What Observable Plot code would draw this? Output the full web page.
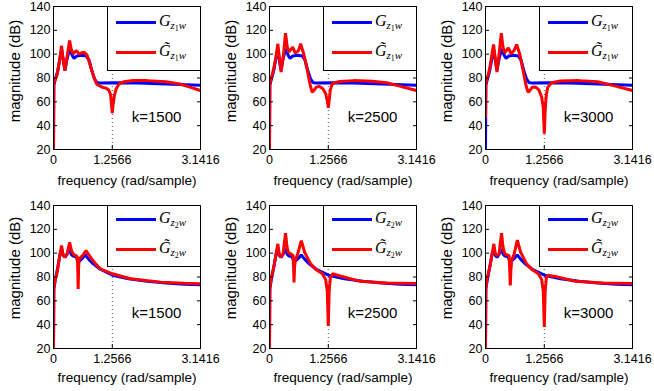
<!DOCTYPE html>
<html><head><meta charset="utf-8">
<script src="https://cdn.jsdelivr.net/npm/d3@7"></script>
<script src="https://cdn.jsdelivr.net/npm/@observablehq/plot@0.6"></script>
<style>
body{margin:0;background:#fff;}
#fig{position:relative;width:654px;height:391px;overflow:hidden;background:#fff;font-family:"Liberation Sans",Arial,sans-serif;}
.panel{position:absolute;}
.panel svg{overflow:visible;}
.leg{position:absolute;box-sizing:border-box;border:1px solid #000;background:#fff;}
.leg .ln{position:absolute;height:3px;left:8px;width:40px;}
.leg .lab{position:absolute;left:51px;font-family:"Liberation Serif","DejaVu Serif",serif;font-style:italic;font-size:16px;line-height:16px;white-space:nowrap;color:#000;}
.leg .sb{font-size:11px;position:relative;top:3px;}
.leg .sb2{font-size:8px;position:relative;top:2px;font-style:normal;}
</style></head><body><div id="fig"></div>
<script>
// axis / label text
const xTicks = [0, 1.2566, 3.1416];
const xTickLabels = ["0", "1.2566", "3.1416"];
const yTicks = [20, 40, 60, 80, 100, 120, 140];
const notchFreq = [1.2566];
const kLabels = ["k=1500", "k=2500", "k=3000"];
const xLabel = "frequency (rad/sample)";
const yLabel = "magnitude (dB)";
const seriesNames = ["G", "G\u0303"];
const outputIndex = ["1", "2"];

// [frequency, magnitude dB]
const blueTop = [[0,20],[0.008,74],[0.04,79],[0.09,86],[0.14,97],[0.175,104],[0.21,95],[0.245,86.5],[0.29,96],[0.345,104.5],[0.4,99],[0.44,96.5],[0.5,98.5],[0.6,99],[0.7,98.5],[0.76,95],[0.82,86],[0.88,79],[0.93,76.2],[1.0,75.7],[1.3,76],[1.8,75.8],[2.4,75],[3.1416,74]];
const red1 = [[0,20],[0.006,76],[0.04,79],[0.08,83],[0.13,95],[0.172,107],[0.2,97],[0.243,86],[0.29,98],[0.345,111.5],[0.38,104],[0.42,100.5],[0.49,103],[0.55,100],[0.62,101.5],[0.66,101.5],[0.72,99],[0.79,90],[0.862,80.7],[0.92,75],[0.97,73.7],[1.04,72.3],[1.12,71.5],[1.18,70],[1.22,66],[1.242,57],[1.2566,50.5],[1.272,57],[1.3,65],[1.34,71],[1.40,75],[1.5,76.8],[1.7,77.9],[2.0,77.8],[2.4,76.8],[2.7,75],[2.9,72.5],[3.1416,69.5]];
const red2 = [[0,20],[0.006,76],[0.04,80],[0.09,88],[0.14,98],[0.178,108.7],[0.215,96],[0.248,85],[0.3,100],[0.342,117.6],[0.375,107],[0.412,101.7],[0.495,105.9],[0.552,100.9],[0.62,103],[0.665,108.7],[0.73,100.3],[0.8,88],[0.87,74],[0.913,68],[0.95,69.5],[1.0,72.3],[1.06,73],[1.14,71],[1.2,67],[1.235,61],[1.2566,55],[1.275,61],[1.3,70],[1.34,75],[1.39,76],[1.5,77],[1.8,77.8],[2.2,77.3],[2.5,76],[2.8,73],[3.1416,69.5]];
const red3 = [[0,47],[0.006,76],[0.04,80],[0.09,88],[0.13,98],[0.172,108.1],[0.21,96],[0.245,85],[0.29,100],[0.338,117.6],[0.37,107],[0.405,101],[0.49,105.3],[0.545,100.3],[0.61,103],[0.665,108.1],[0.73,100.3],[0.8,87],[0.87,73],[0.912,68],[0.95,69.5],[1.0,72.3],[1.07,72.5],[1.14,70],[1.2,64],[1.235,55],[1.2566,33.2],[1.278,55],[1.3,66],[1.33,72.3],[1.41,76],[1.6,77.5],[2.0,77.8],[2.4,76.8],[2.8,73],[3.1416,69.5]];
const blueBot = [[0,20],[0.008,70],[0.04,78],[0.09,88],[0.14,99],[0.175,104],[0.21,98],[0.245,96.5],[0.29,99],[0.345,103.5],[0.38,99],[0.42,97.5],[0.48,97],[0.53,92.5],[0.6,95],[0.68,98.5],[0.75,95],[0.85,91],[1.0,86.5],[1.26,81.5],[1.6,78.5],[2.0,76.5],[2.4,75],[2.8,74],[3.1416,73.5]];
const red4 = [[0,20],[0.006,71],[0.04,78],[0.08,84],[0.13,97],[0.172,106.4],[0.2,99],[0.238,96.6],[0.29,99.4],[0.345,109.2],[0.385,102],[0.42,99.4],[0.506,97.2],[0.518,88],[0.527,70],[0.537,88],[0.549,95.3],[0.62,98],[0.695,102.2],[0.79,96.6],[0.9,91],[1.0,86.9],[1.26,82.7],[1.646,78.5],[2.29,75.7],[2.8,74.8],[3.1416,74.3]];
const red5 = [[0,20],[0.006,71],[0.04,80],[0.09,88],[0.14,99],[0.178,107.8],[0.21,99],[0.243,96.6],[0.29,99.4],[0.342,116.8],[0.375,105],[0.4,100.8],[0.503,98],[0.515,88],[0.524,75.5],[0.535,88],[0.55,94],[0.6,99],[0.68,110.6],[0.75,100.8],[0.88,91],[1.0,86],[1.13,82.7],[1.2,78],[1.235,68],[1.2566,39],[1.275,68],[1.3,79],[1.35,82.7],[1.49,81],[1.92,76.5],[2.5,75],[3.1416,74.5]];
const red6 = [[0,20],[0.006,70],[0.04,80],[0.09,88],[0.14,99],[0.178,107.8],[0.21,99.5],[0.243,98],[0.29,99.4],[0.342,116.8],[0.375,105],[0.41,99.4],[0.503,98],[0.518,86],[0.53,72.9],[0.543,86],[0.56,94],[0.61,99],[0.68,111],[0.75,100.8],[0.88,91],[1.0,86],[1.13,82.7],[1.2,78],[1.235,68],[1.2566,38],[1.275,68],[1.3,79],[1.33,81.5],[1.49,80.5],[1.92,76.5],[2.5,75],[3.1416,74.5]];

const rows = [
  {blue: blueTop, reds: [red1, red2, red3], idx: outputIndex[0]},
  {blue: blueBot, reds: [red4, red5, red6], idx: outputIndex[1]}
];

// layout
const colLeft = [0, 216, 432];
const rowTop = [0, 199];
const rowH = [195, 192];
const rowMB = [46, 43];
const rowXLabelDy = [31, 29];
const rowYLabelDy = [-7, -9];
const rowKDy = [-32, -35];
const rowLegH = [65, 62];
const rowLegLine = [[16, 46], [14, 44]];

const fig = document.getElementById("fig");

rows.forEach((row, r) => {
  row.reds.forEach((red, c) => {
    const chart = Plot.plot({
      width: 218, height: rowH[r],
      marginLeft: 53, marginRight: 18, marginTop: 6, marginBottom: rowMB[r],
      x: {domain: [0, 3.1416]},
      y: {domain: [20, 140]},
      style: {fontFamily: "Liberation Sans, Arial, sans-serif", fontSize: "12.5px", color: "#000", background: "transparent"},
      marks: [
        Plot.ruleX(notchFreq, {stroke: "#555", strokeDasharray: "1,3", strokeWidth: 1}),
        Plot.line(row.blue, {x: d => d[0], y: d => d[1], stroke: "#0000ff", strokeWidth: 3, strokeLinejoin: "miter", clip: true}),
        Plot.line(red, {x: d => d[0], y: d => d[1], stroke: "#ff0000", strokeWidth: 3, strokeLinejoin: "miter", clip: true}),
        Plot.frame({stroke: "#000"}),
        Plot.axisY({ticks: yTicks, tickSize: -4, tickPadding: 7, label: null}),
        Plot.axisY({anchor: "right", ticks: yTicks, tickSize: -4, tickFormat: () => "", label: null}),
        Plot.axisX({ticks: xTicks, tickSize: -4, tickPadding: 10, tickFormat: d => xTickLabels[xTicks.indexOf(d)], label: null}),
        Plot.axisX({anchor: "top", ticks: xTicks, tickSize: -4, tickFormat: () => "", label: null}),
        Plot.text([xLabel], {text: d => d, frameAnchor: "bottom", textAnchor: "middle", lineAnchor: "middle", dy: rowXLabelDy[r], fontSize: 13.5}),
        Plot.text([yLabel], {text: d => d, frameAnchor: "left", textAnchor: "middle", lineAnchor: "middle", dx: -38, dy: rowYLabelDy[r], rotate: -90, fontSize: 15}),
        Plot.text([kLabels[c]], {text: d => d, frameAnchor: "bottom-right", textAnchor: "middle", lineAnchor: "middle", dx: -44, dy: rowKDy[r], fontSize: 15})
      ]
    });
    const div = document.createElement("div");
    div.className = "panel";
    div.style.left = colLeft[c] + "px";
    div.style.top = rowTop[r] + "px";
    div.appendChild(chart);
    fig.appendChild(div);

    const leg = document.createElement("div");
    leg.className = "leg";
    leg.style.left = (colLeft[c] + 107) + "px";
    leg.style.top = (rowTop[r] + 6) + "px";
    leg.style.width = "94px";
    leg.style.height = rowLegH[r] + "px";
    [["#0000ff", seriesNames[0]], ["#ff0000", seriesNames[1]]].forEach(([col, name], i) => {
      const y = rowLegLine[r][i];
      const ln = document.createElement("div");
      ln.className = "ln";
      ln.style.background = col;
      ln.style.top = (y - 1.5 - 1) + "px";
      leg.appendChild(ln);
      const lab = document.createElement("div");
      lab.className = "lab";
      lab.style.top = (y - 10) + "px";
      lab.innerHTML = `<span>${name}</span><span class="sb">z<span class="sb2">${row.idx}</span>w</span>`;
      leg.appendChild(lab);
    });
    fig.appendChild(leg);
  });
});
</script></body></html>
